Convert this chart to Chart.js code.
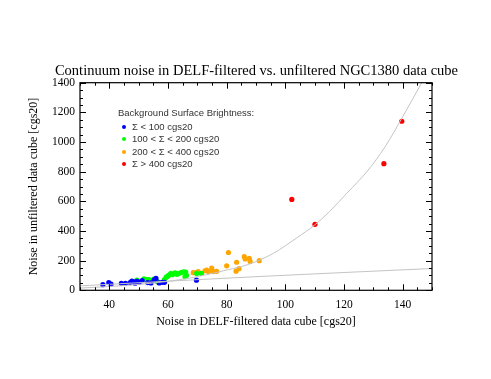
<!DOCTYPE html>
<html>
<head>
<meta charset="utf-8">
<script src="https://cdn.jsdelivr.net/npm/chart.js@4"></script>
<style>
  body { margin: 0; background: #fff; }
  #wrap { position: relative; width: 491px; height: 379px; }
  #legend { position: absolute; left: 0; top: 0; font-family: "Liberation Sans", Arial, sans-serif; font-size: 9.5px; color: #333; }
  #legend .ttl { position: absolute; left: 118px; top: 107px; white-space: nowrap; }
  #legend .item { position: absolute; left: 132px; white-space: nowrap; }
  #legend .dot { position: absolute; width: 4px; height: 4px; border-radius: 50%; }
</style>
</head>
<body>
<div id="wrap">
  <canvas id="noiseChart" width="491" height="379"></canvas>
  <div id="legend"></div>
</div>
<script>
// Series values
const blueX = [37.8, 39.8, 40.6, 44.1, 45.5, 47.1, 47.7, 48.3, 48.8, 49.4, 50.2, 51.2, 53.1, 54.2, 55.3, 55.9, 57.0, 58.0, 58.8, 69.7];
const blueY = [38, 52, 42, 47, 47, 52, 62, 57, 48, 60, 55, 65, 52, 50, 70, 80, 50, 54, 54, 68];

const greenX = [49.4, 51.8, 52.7, 53.5, 54.4, 55.1, 55.9, 56.4, 58.8, 59.3, 59.6, 60.2, 60.7, 61.0, 61.6, 62.4, 63.0, 63.3, 64.0, 64.7, 65.4, 66.0, 65.8, 66.3, 69.8, 71.4];
const greenY = [68, 77, 73, 72, 62, 76, 66, 58, 72, 86, 92, 100, 108, 115, 106, 118, 108, 112, 116, 121, 125, 122, 92, 100, 114, 114];

const orangeX = [68.6, 69.5, 70.3, 72.6, 73.2, 73.8, 74.9, 75.5, 76.6, 80.0, 80.6, 83.2, 83.4, 84.2, 86.0, 86.3, 87.7, 88.0, 91.1];
const orangeY = [119, 119, 126, 132, 137, 126, 150, 126, 128, 165, 255, 129, 189, 146, 227, 211, 216, 195, 200];

const redX = [102.2, 110.1, 133.6, 139.7];
const redY = [613, 445, 854, 1140];

// Gray reference curves
const unityX = [30, 90, 150];
const unityY = [30, 92, 147];
const fitX = [30, 45, 60, 70, 79, 85, 90, 96, 100, 104, 110, 115, 121, 128, 134, 140, 146.5];
const fitY = [15, 32, 60, 92, 132, 160, 193, 250, 300, 355, 440, 530, 655, 805, 968, 1170, 1400];

// Axis ticks
const xTickValues = [40, 60, 80, 100, 120, 140];
const yTickValues = [0, 200, 400, 600, 800, 1000, 1200, 1400];

const legendTitle = 'Background Surface Brightness:';
const legendLabels = ['\u03A3 < 100 cgs20', '100 < \u03A3 < 200 cgs20', '200 < \u03A3 < 400 cgs20', '\u03A3 > 400 cgs20'];
const legendColors = ['#0000ff', '#00ff00', '#ffa500', '#ff0000'];

const toPoints = (xs, ys) => xs.map((x, i) => ({ x: x, y: ys[i] }));

function scatterSet(xs, ys, color) {
    return {
        data: toPoints(xs, ys),
        backgroundColor: color,
        borderWidth: 0,
        pointRadius: 2.6,
        showLine: false
    };
}

function curveSet(xs, ys) {
    return {
        data: toPoints(xs, ys),
        borderColor: '#c4c4c4',
        borderWidth: 1,
        pointRadius: 0,
        showLine: true,
        cubicInterpolationMode: 'monotone'
    };
}

// IDL style frame: box with inward major/minor ticks on all sides
const idlFrame = {
    id: 'idlFrame',
    afterDatasetsDraw(chart) {
        const { ctx, chartArea: a, scales } = chart;
        const xs = scales.x, ys = scales.y;
        ctx.save();
        ctx.strokeStyle = '#000';
        ctx.lineWidth = 1.2;
        ctx.strokeRect(a.left, a.top, a.right - a.left, a.bottom - a.top);
        ctx.lineWidth = 1;
        ctx.beginPath();
        for (let v = 30; v <= 150; v += 5) {
            const px = Math.round(xs.getPixelForValue(v)) + 0.5;
            const len = v % 20 === 0 ? 6 : 3;
            ctx.moveTo(px, a.bottom); ctx.lineTo(px, a.bottom - len);
            ctx.moveTo(px, a.top); ctx.lineTo(px, a.top + len);
        }
        for (let v = 0; v <= 1400; v += 50) {
            const py = Math.round(ys.getPixelForValue(v)) + 0.5;
            const len = v % 200 === 0 ? 6 : 3;
            ctx.moveTo(a.left, py); ctx.lineTo(a.left + len, py);
            ctx.moveTo(a.right, py); ctx.lineTo(a.right - len, py);
        }
        ctx.stroke();
        ctx.restore();
    }
};

const serif = '"Liberation Serif", "Times New Roman", serif';

const ctx = document.getElementById('noiseChart').getContext('2d');
const noiseChart = new Chart(ctx, {
    type: 'scatter',
    data: {
        datasets: [
            curveSet(unityX, unityY),
            curveSet(fitX, fitY),
            scatterSet(blueX, blueY, legendColors[0]),
            scatterSet(greenX, greenY, legendColors[1]),
            scatterSet(orangeX, orangeY, legendColors[2]),
            scatterSet(redX, redY, legendColors[3])
        ]
    },
    options: {
        responsive: false,
        animation: false,
        // left padding keeps the title centred over the plot box
        layout: { padding: { left: 22, right: 0, top: 62, bottom: 0 } },
        plugins: {
            legend: { display: false },
            tooltip: { enabled: false },
            title: {
                display: true,
                text: 'Continuum noise in DELF-filtered vs. unfiltered NGC1380 data cube',
                color: '#000',
                font: { family: serif, size: 14.5, weight: 'normal' },
                padding: { top: 0, bottom: 3.3 }
            }
        },
        scales: {
            x: {
                type: 'linear',
                min: 30,
                max: 150,
                afterBuildTicks: (scale) => { scale.ticks = xTickValues.map(v => ({ value: v })); },
                afterFit: (scale) => { scale.height = 88.7; },
                grid: { display: false, drawTicks: false },
                border: { display: false },
                ticks: { color: '#000', padding: 8, font: { family: serif, size: 11.5 }, callback: (v) => String(v) },
                title: {
                    display: true,
                    text: 'Noise in DELF-filtered data cube [cgs20]',
                    color: '#000',
                    font: { family: serif, size: 12 },
                    padding: { top: 0, bottom: 50 }
                }
            },
            y: {
                type: 'linear',
                min: 0,
                max: 1400,
                afterBuildTicks: (scale) => { scale.ticks = yTickValues.map(v => ({ value: v })); },
                afterFit: (scale) => { scale.width = 58; },
                grid: { display: false, drawTicks: false },
                border: { display: false },
                ticks: { color: '#000', padding: 5, font: { family: serif, size: 11.5 }, callback: (v) => String(v) },
                title: {
                    display: true,
                    text: 'Noise in unfiltered data cube [cgs20]',
                    color: '#000',
                    font: { family: serif, size: 12 },
                    padding: { top: 5, bottom: 0 }
                }
            },
            // empty right axis, only reserves the margin right of the box
            yRight: {
                type: 'linear',
                position: 'right',
                min: 0,
                max: 1400,
                afterFit: (scale) => { scale.width = 59; },
                grid: { display: false, drawTicks: false },
                border: { display: false },
                ticks: { display: false }
            }
        }
    },
    plugins: [idlFrame]
});

// Legend overlay inside the plot area
const legendEl = document.getElementById('legend');
const ttl = document.createElement('div');
ttl.className = 'ttl';
ttl.textContent = legendTitle;
legendEl.appendChild(ttl);
legendLabels.forEach((label, i) => {
    const rowY = 126.7 + i * 12.5;
    const dot = document.createElement('span');
    dot.className = 'dot';
    dot.style.left = '122px';
    dot.style.top = (rowY - 2) + 'px';
    dot.style.background = legendColors[i];
    legendEl.appendChild(dot);
    const item = document.createElement('div');
    item.className = 'item';
    item.style.top = (rowY - 6) + 'px';
    item.textContent = label;
    legendEl.appendChild(item);
});
</script>
</body>
</html>
